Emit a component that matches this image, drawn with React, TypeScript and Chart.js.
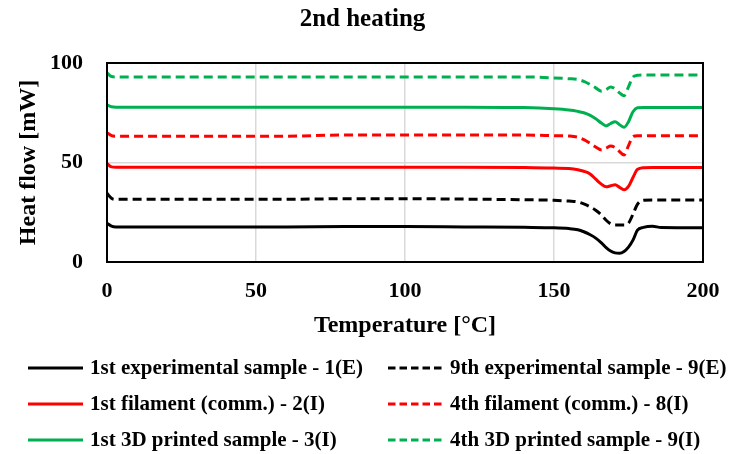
import React, { useEffect, useRef } from "react";
import { Chart, registerables } from "chart.js";

Chart.register(...registerables);

// Temperature grid (°C) shared by all series
const temperatures = [0, 1.5, 3, 30, 60, 80, 100, 120, 140, 150, 155, 158, 160, 162, 164, 166, 167.5, 169, 170.5, 172, 173.5, 175, 176.5, 178, 180, 183, 186, 200];

// Heat flow (mW)
const sample1E = [19.5, 18, 17.6, 17.6, 17.6, 17.8, 17.8, 17.6, 17.4, 17.2, 16.8, 16.2, 15.2, 13.8, 12, 9.5, 7.2, 5.5, 4.6, 4.4, 5.3, 7.5, 11, 16, 17.4, 18, 17.3, 17.2];
const sample9E = [34.5, 32, 31.5, 31.5, 31.5, 31.8, 31.8, 31.6, 31.3, 31, 30.6, 30.2, 29.2, 27.8, 26, 23.5, 21, 19.2, 18.6, 18.6, 18.6, 19.5, 24, 29, 31, 31.2, 31.2, 31.2];
const filament2I = [49.5, 47.8, 47.6, 47.6, 47.6, 47.6, 47.6, 47.6, 47.5, 47.2, 47, 46.4, 45.6, 44.4, 41.6, 39, 37.8, 38.3, 38.8, 37.5, 36.3, 38, 42.5, 46.5, 47.4, 47.5, 47.5, 47.5];
const filament8I = [65, 63.5, 63.2, 63.2, 63.2, 63.8, 63.8, 63.8, 63.8, 63.5, 63.3, 62.7, 61.5, 59.8, 57.8, 56.3, 57.2, 58.3, 57.5, 55.5, 53.8, 58.5, 63, 63.5, 63.5, 63.5, 63.5, 63.5];
const printed3I = [79, 78, 77.8, 77.8, 77.8, 77.8, 77.8, 77.8, 77.6, 77, 76.4, 75.7, 75, 73.8, 72, 69.7, 68.4, 69.6, 70.5, 69, 67.7, 70.5, 75.5, 77.5, 77.7, 77.7, 77.7, 77.7];
const printed9I = [95, 93.2, 93, 93, 93, 93, 93, 93, 93, 92.5, 92.1, 91.7, 90.8, 89.3, 87.5, 85.8, 86.6, 88, 87, 85, 83.6, 88, 93, 93.8, 94, 94, 94, 94];

const seriesLabels = [
  "1st experimental sample - 1(E)",
  "9th experimental sample - 9(E)",
  "1st filament (comm.) - 2(I)",
  "4th filament (comm.) - 8(I)",
  "1st 3D printed sample - 3(I)",
  "4th 3D printed sample - 9(I)",
];
const seriesValues = [sample1E, sample9E, filament2I, filament8I, printed3I, printed9I];
const seriesColors = ["#000000", "#000000", "#ff0000", "#ff0000", "#00b050", "#00b050"];
const seriesDashed = [false, true, false, true, false, true];

const xTicks = [0, 50, 100, 150, 200];
const yTicks = [0, 50, 100];

const FONT = "'Liberation Serif', 'Times New Roman', serif";

const legendPlugin = {
  id: "gridLegend",
  afterDraw(chart: any) {
    const ctx = chart.ctx;
    ctx.save();
    ctx.font = `bold 21px ${FONT}`;
    ctx.textBaseline = "middle";
    ctx.textAlign = "left";
    chart.data.datasets.forEach((ds: any, i: number) => {
      const col = i % 2;
      const row = Math.floor(i / 2);
      const x0 = col === 0 ? 28 : 388;
      const y = 368 + row * 36;
      ctx.strokeStyle = ds.borderColor;
      ctx.lineWidth = 3;
      ctx.setLineDash(ds.borderDash && ds.borderDash.length ? [7.5, 4] : []);
      ctx.beginPath();
      ctx.moveTo(x0, y);
      ctx.lineTo(x0 + 55, y);
      ctx.stroke();
      ctx.setLineDash([]);
      ctx.fillStyle = "#000";
      ctx.fillText(ds.label, x0 + 62, y + 1);
    });
    ctx.restore();
  },
};

const framePlugin = {
  id: "frame",
  afterDatasetsDraw(chart: any) {
    const { ctx, chartArea } = chart;
    ctx.save();
    ctx.strokeStyle = "#000";
    ctx.lineWidth = 2;
    ctx.setLineDash([]);
    ctx.strokeRect(chartArea.left, chartArea.top, chartArea.right - chartArea.left, chartArea.bottom - chartArea.top);
    ctx.restore();
  },
};

export default function App() {
  const ref = useRef<HTMLCanvasElement>(null);
  useEffect(() => {
    const datasets = seriesLabels.map((label, i) => ({
      label,
      data: temperatures.map((t, j) => ({ x: t, y: seriesValues[i][j] })),
      borderColor: seriesColors[i],
      backgroundColor: seriesColors[i],
      borderWidth: 3,
      borderDash: seriesDashed[i] ? [9, 5] : [],
      pointRadius: 0,
      cubicInterpolationMode: "monotone" as const,
      fill: false,
    }));
    const chart = new Chart(ref.current as HTMLCanvasElement, {
      type: "line",
      data: { datasets },
      options: {
        responsive: false,
        animation: false,
        devicePixelRatio: 1,
        layout: { padding: { left: 22, right: 28, top: 0, bottom: 109 } },
        plugins: {
          legend: { display: false },
          tooltip: { enabled: false },
          title: {
            display: true,
            text: "2nd heating",
            color: "#000",
            font: { family: FONT, size: 25, weight: "bold" },
            padding: { top: 5, bottom: 28 },
          },
        },
        scales: {
          x: {
            type: "linear",
            min: 0,
            max: 200,
            afterBuildTicks: (scale: any) => {
              scale.ticks = xTicks.map((v) => ({ value: v }));
            },
            afterFit: (scale: any) => {
              scale.height = 83;
              scale.paddingRight = 0;
              scale.paddingLeft = 0;
            },
            grid: { color: "#d9d9d9", lineWidth: 1.5, drawTicks: false },
            border: { display: false },
            ticks: { color: "#000", padding: 16, font: { family: FONT, size: 22, weight: "bold" } },
            title: {
              display: true,
              text: "Temperature [°C]",
              color: "#000",
              font: { family: FONT, size: 24, weight: "bold" },
              padding: { top: 0, bottom: 5 },
            },
          },
          y: {
            type: "linear",
            min: 0,
            max: 100,
            afterBuildTicks: (scale: any) => {
              scale.ticks = yTicks.map((v) => ({ value: v }));
            },
            afterFit: (scale: any) => {
              scale.width = 85;
              scale.paddingTop = 0;
              scale.paddingBottom = 0;
            },
            grid: { color: "#d9d9d9", lineWidth: 1.5, drawTicks: false },
            border: { display: false },
            ticks: { color: "#000", padding: 24, font: { family: FONT, size: 22, weight: "bold" } },
            title: {
              display: true,
              text: "Heat flow [mW]",
              color: "#000",
              font: { family: FONT, size: 24, weight: "bold" },
              padding: { top: -8, bottom: 0 },
            },
          },
        },
      },
      plugins: [framePlugin, legendPlugin],
    } as any);
    return () => chart.destroy();
  }, []);
  return (
    <div style={{ position: "absolute", left: 0, top: 0, width: 731, height: 454, background: "#fff" }}>
      <canvas ref={ref} width={731} height={454} style={{ display: "block" }} />
    </div>
  );
}
